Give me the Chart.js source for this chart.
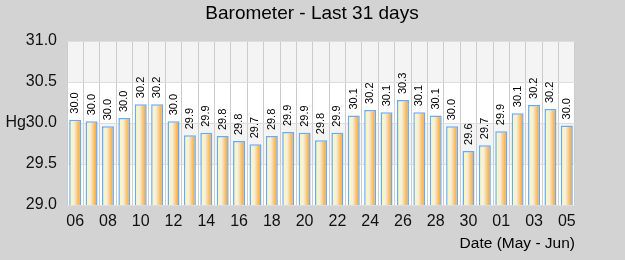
<!DOCTYPE html>
<html>
<head>
<meta charset="utf-8">
<script src="https://cdn.jsdelivr.net/npm/chart.js@4.4.0/dist/chart.umd.min.js"></script>
<style>
  html, body { margin: 0; padding: 0; background: #d3d3d3; }
  #wrap { width: 625px; height: 260px; }
</style>
</head>
<body>
<div id="wrap"><canvas id="baroCanvas" width="625" height="260"></canvas></div>
<script>
// days May 6 - Jun 5
const days = ['06','07','08','09','10','11','12','13','14','15','16','17','18','19','20',
              '21','22','23','24','25','26','27','28','29','30','31','01','02','03','04','05'];

// bar heights (inHg)
const pressure = [30.04, 30.02, 29.96, 30.06, 30.23, 30.23, 30.02, 29.85, 29.88, 29.84,
                  29.78, 29.74, 29.84, 29.89, 29.88, 29.79, 29.88, 30.09, 30.16, 30.13,
                  30.28, 30.13, 30.09, 29.96, 29.66, 29.73, 29.90, 30.12, 30.22, 30.17, 29.97];

// value labels printed above the bars
const shown = ['30.0','30.0','30.0','30.0','30.2','30.2','30.0','29.9','29.9','29.8',
               '29.8','29.7','29.8','29.9','29.9','29.8','29.9','30.1','30.2','30.1',
               '30.3','30.1','30.1','30.0','29.6','29.7','29.9','30.1','30.2','30.2','30.0'];

const yTicks = [29.0, 29.5, 30.0, 30.5, 31.0];

const BAR_PCT = 0.73;

// 背景和条纹
const bandPlugin = {
    id: 'bands',
    beforeDraw(chart) {
        const ctx = chart.ctx;
        const a = chart.chartArea;
        const y = chart.scales.y;
        ctx.save();
        ctx.fillStyle = '#d3d3d3';
        ctx.fillRect(0, 0, chart.width, chart.height);
        ctx.fillStyle = '#ffffff';
        ctx.fillRect(a.left, a.top, a.right - a.left, a.bottom - a.top);
        ctx.fillStyle = '#f4f4f4';
        for (let i = 0; i < yTicks.length - 1; i++) {
            if (i % 2 === 1) {
                const top = y.getPixelForValue(yTicks[i + 1]);
                const bot = y.getPixelForValue(yTicks[i]);
                ctx.fillRect(a.left, top, a.right - a.left, bot - top);
            }
        }
        ctx.restore();
    }
};

// 标题, 轴标题, 数值标签
const textPlugin = {
    id: 'texts',
    afterDatasetsDraw(chart) {
        const ctx = chart.ctx;
        ctx.save();
        ctx.fillStyle = '#000';
        ctx.font = '19px "Liberation Sans", Arial, sans-serif';
        ctx.textAlign = 'center';
        ctx.textBaseline = 'alphabetic';
        ctx.fillText('Barometer - Last 31 days', 312, 19);

        ctx.font = '15.5px "Liberation Sans", Arial, sans-serif';
        ctx.textAlign = 'right';
        ctx.fillText('Date (May - Jun)', chart.chartArea.right, 248);

        ctx.font = '11px "Liberation Sans", Arial, sans-serif';
        ctx.textAlign = 'left';
        ctx.textBaseline = 'middle';
        chart.getDatasetMeta(0).data.forEach((bar, i) => {
            ctx.save();
            ctx.translate(bar.x, bar.y - 6);
            ctx.rotate(-Math.PI / 2);
            ctx.fillText(shown[i], 0, 0);
            ctx.restore();
        });
        ctx.restore();
    }
};

function barGradient(context) {
    const chart = context.chart;
    if (!chart.chartArea || context.dataIndex === undefined) return '#f8d070';
    const xs = chart.scales.x;
    const cx = xs.getPixelForValue(context.dataIndex);
    const half = (chart.chartArea.right - chart.chartArea.left) / days.length * BAR_PCT / 2;
    const g = chart.ctx.createLinearGradient(cx - half, 0, cx + half, 0);
    g.addColorStop(0, '#ffff99');
    g.addColorStop(0.4, '#f3efe4');
    g.addColorStop(1, '#ff9900');
    return g;
}

const ctx = document.getElementById('baroCanvas').getContext('2d');
const baroChart = new Chart(ctx, {
    type: 'bar',
    data: {
        labels: days,
        datasets: [{
            data: pressure,
            backgroundColor: barGradient,
            borderColor: '#66aaff',
            borderWidth: 1.5,
            borderSkipped: 'bottom',
            categoryPercentage: 1,
            barPercentage: BAR_PCT
        }]
    },
    options: {
        responsive: false,
        animation: false,
        layout: {
            padding: { top: 41, right: 50, left: 0, bottom: 0 }
        },
        plugins: {
            legend: { display: false },
            title: { display: false },
            tooltip: { enabled: false }
        },
        scales: {
            x: {
                afterFit(axis) { axis.height = 55; },
                grid: { color: '#cccccc', drawTicks: false, offset: true },
                border: { display: false },
                ticks: {
                    autoSkip: false,
                    maxRotation: 0,
                    padding: 7,
                    color: '#111',
                    font: { size: 16, family: '"Liberation Sans", Arial, sans-serif' },
                    callback: function(val, i) { return i % 2 === 0 ? days[i] : ''; }
                }
            },
            y: {
                min: 29,
                max: 31,
                afterFit(axis) { axis.width = 67; },
                afterBuildTicks(axis) { axis.ticks = yTicks.map(v => ({ value: v })); },
                grid: { color: '#dddddd', drawTicks: false },
                border: { display: false },
                ticks: {
                    padding: 10,
                    color: '#111',
                    font: { size: 16, family: '"Liberation Sans", Arial, sans-serif' },
                    callback: function(v) { return v === 30 ? 'Hg30.0' : v.toFixed(1); }
                }
            }
        }
    },
    plugins: [bandPlugin, textPlugin]
});
</script>
</body>
</html>
